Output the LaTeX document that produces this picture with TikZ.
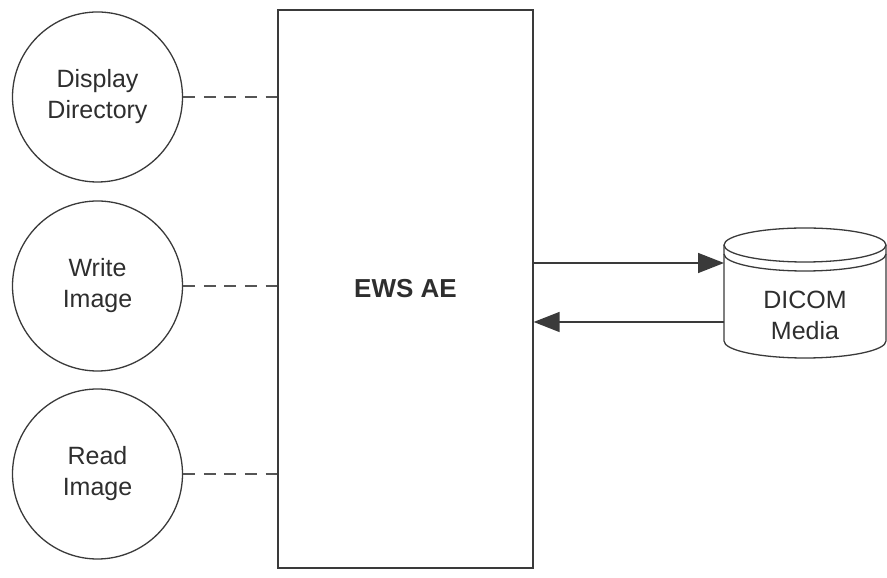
\documentclass[tikz,border=0pt]{standalone}
\usepackage{fontspec}
\setmainfont{Liberation Sans}
\usetikzlibrary{arrows.meta, positioning}
\definecolor{edgegray}{HTML}{3A3A3A}
\definecolor{textgray}{HTML}{2E2E2E}
\definecolor{dashgray}{HTML}{555555}
\tikzset{
  procnode/.style={circle, draw=edgegray, line width=1.3pt, minimum size=170pt, inner sep=0pt,
    align=center, text=textgray, font=\fontsize{25}{31}\selectfont},
  aebox/.style={draw=edgegray, line width=1.3pt, minimum width=255pt, minimum height=558pt,
    text=textgray, font=\fontsize{26}{31}\selectfont\bfseries},
  dashlink/.style={dashgray, line width=2.4pt, dash pattern=on 12pt off 8.6pt},
  flowarrow/.style={edgegray, line width=1.5pt, -{Triangle[length=26pt, width=20pt]}},
  drumline/.style={edgegray, line width=1.3pt}
}

\begin{document}
\begin{tikzpicture}[x=1pt, y=1pt]
\useasboundingbox (0,0) rectangle (887,578);
\node[aebox] (ews) at (405.5,289) {EWS AE};
\node[procnode] (dispdir) at (97.5,481) {Display\\Directory};
\node[procnode] (writeimg) at (97.5,292) {Write\\Image};
\node[procnode] (readimg) at (97.5,104) {Read\\Image};
\draw[dashlink] (dispdir.east) -- (dispdir.east -| ews.west);
\draw[dashlink] (writeimg.east) -- (writeimg.east -| ews.west);
\draw[dashlink] (readimg.east) -- (readimg.east -| ews.west);
% media drum
\draw[drumline] (724,333) -- (724,237) arc[start angle=180, end angle=360, x radius=81, y radius=17] -- (886,333);
\draw[drumline] (805,333) ellipse[x radius=81, y radius=17];
\draw[drumline] (724,324) arc[start angle=180, end angle=360, x radius=81, y radius=17];
\node[font=\fontsize{25}{31}\selectfont, text=textgray, align=center] (media) at (805,263) {DICOM\\Media};
\coordinate (mediaIn) at (724,315);
\coordinate (mediaOut) at (724,256);
\draw[flowarrow] (ews.east |- mediaIn) -- (mediaIn);
\draw[flowarrow] (mediaOut) -- (ews.east |- mediaOut);
\end{tikzpicture}
\end{document}
